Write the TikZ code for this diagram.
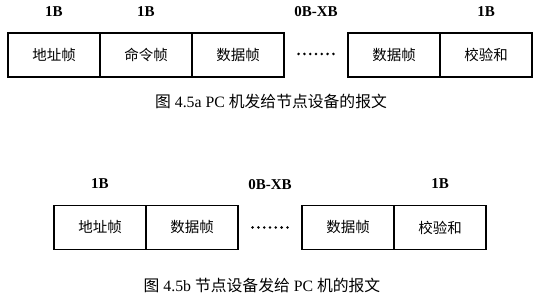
\documentclass[tikz,border=0pt]{standalone}
\usepackage{fontspec}
\setmainfont{Liberation Serif}
\newfontfamily\cjk{Noto Sans CJK SC}
\usetikzlibrary{positioning,calc}

\tikzset{
  cell/.style={draw, line width=1.1pt, outer sep=0pt, inner sep=0pt,
    minimum width=92pt, minimum height=44pt, font=\cjk\fontsize{14.5}{14.5}\selectfont},
  bytes/.style={font=\bfseries\fontsize{15}{15}\selectfont},
  caption/.style={font=\fontsize{15.8}{15.8}\selectfont},
}

\begin{document}
\begin{tikzpicture}[x=1pt, y=-1pt]
  \useasboundingbox (0,0) rectangle (539,307);
  % Frame a: PC to node
  \node[cell, anchor=west] (addrA) at (8,55) {地址帧};
  \node[cell, right=0pt of addrA] (cmdA) {命令帧};
  \node[cell, right=0pt of cmdA] (dataA) {数据帧};
  \node[cell, anchor=west] (dataLastA) at (348,55) {数据帧};
  \node[cell, right=0pt of dataLastA] (sumA) {校验和};
  \coordinate (gapA) at ($(dataA.east)!0.5!(dataLastA.west)$);
  \foreach \i in {-3,...,3}
    \fill ($(gapA)+(\i*5.8,-1)$) circle (1.4pt);
  \node[bytes, above=13pt of addrA] (szAddrA) {1B};
  \node[bytes, above=13pt of cmdA] (szCmdA) {1B};
  \node[bytes] (szDataA) at ($(gapA)+(0,-43)$) {0B-XB};
  \node[bytes, above=13pt of sumA] (szSumA) {1B};
  \node[caption] (capA) at (271,101) {{\cjk 图} 4.5a PC {\cjk 机发给节点设备的报文}};

  % Frame b: node to PC
  \node[cell, anchor=west] (addrB) at (54,227.5) {地址帧};
  \node[cell, right=0pt of addrB] (dataB) {数据帧};
  \node[cell, anchor=west] (dataLastB) at (302,227.5) {数据帧};
  \node[cell, right=0pt of dataLastB] (sumB) {校验和};
  \coordinate (gapB) at ($(dataB.east)!0.5!(dataLastB.west)$);
  \foreach \i in {-3,...,3}
    \fill ($(gapB)+(\i*5.8,0)$) circle (1.4pt);
  \node[bytes, above=13pt of addrB] (szAddrB) {1B};
  \node[bytes] (szDataB) at ($(gapB)+(0,-43)$) {0B-XB};
  \node[bytes, above=13pt of sumB] (szSumB) {1B};
  \node[caption] (capB) at (262,285) {{\cjk 图} 4.5b {\cjk 节点设备发给} PC {\cjk 机的报文}};
\end{tikzpicture}
\end{document}
